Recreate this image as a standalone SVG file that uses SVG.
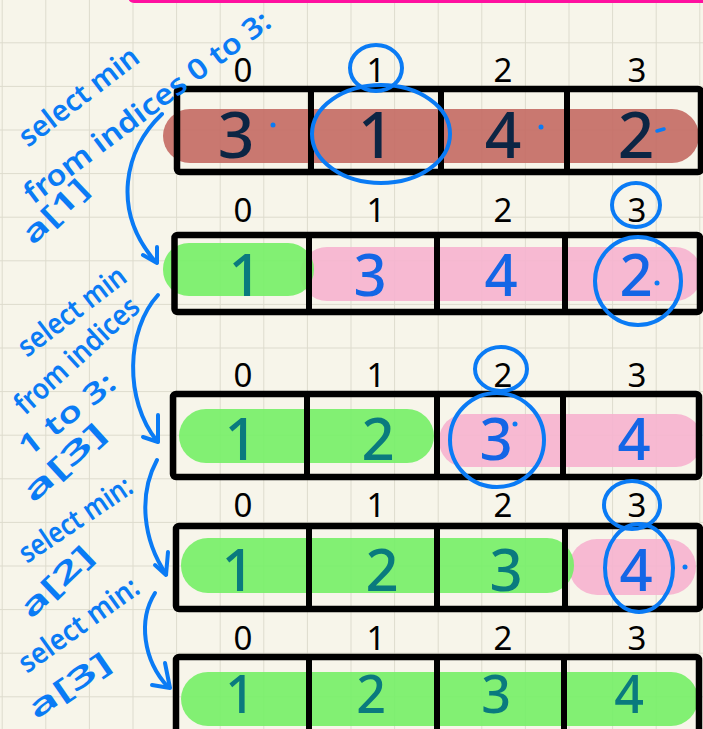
<svg xmlns="http://www.w3.org/2000/svg" width="703" height="729" viewBox="0 0 703 729">
<style>
.box{fill:none;stroke:#000;stroke-width:6.5;stroke-linejoin:round}
.div{stroke:#000;stroke-width:6}
.idx{font-family:"Noto Sans","Liberation Sans",sans-serif;font-size:33px;fill:#000;text-anchor:middle}
.dg{font-family:"Noto Sans","Liberation Sans",sans-serif;text-anchor:middle;font-weight:500}
.navy{fill:#0c2544;font-size:64px}
.teal{fill:#0a7a7e;font-size:58px}
.blu{fill:#1466e6;font-size:58px}
.small{font-size:52px}
.green{fill:#74f066;opacity:.9}
.pink{fill:#f6b3cf;opacity:.9}
.brown{fill:#c46d65;opacity:.92}
.ring{fill:none;stroke:#0a7bf5;stroke-width:4}
.note{font-family:"Noto Sans","Liberation Sans",sans-serif;font-size:29px;font-weight:600;fill:#0a7bf5}
.arr{fill:none;stroke:#0a7bf5;stroke-width:4;stroke-linecap:round;stroke-linejoin:round}
.dot{fill:#0a7bf5}
</style>
<defs>
<pattern id="grid" x="1.7" y="-1.3" width="43.6" height="43.6" patternUnits="userSpaceOnUse">
<path d="M0,0 V43.6 M0,0 H43.6" stroke="#dddbcd" stroke-width="2" fill="none"/>
</pattern>
</defs>
<rect width="703" height="729" fill="#f7f5ea"/>
<rect width="703" height="729" fill="url(#grid)"/>
<rect x="128" y="-10" width="590" height="13" rx="6" fill="#ff10a0"/>

<g id="row1">
<rect class="brown" x="163" y="109" width="536" height="54" rx="27"/>
<rect class="box" x="177" y="89" width="524" height="83" rx="3"/>
<line class="div" x1="311" y1="89" x2="311" y2="172"/>
<line class="div" x1="441" y1="89" x2="441" y2="172"/>
<line class="div" x1="567" y1="89" x2="567" y2="172"/>
<text class="idx" x="243" y="82">0</text><text class="idx" x="376" y="82">1</text><text class="idx" x="503" y="82">2</text><text class="idx" x="637" y="82">3</text>
<text class="dg navy" x="236" y="158">3</text><text class="dg navy" x="376" y="158">1</text><text class="dg navy" x="503" y="158">4</text><text class="dg navy" x="636" y="158">2</text>
<circle class="dot" cx="273" cy="125" r="2.5"/><circle class="dot" cx="541" cy="127" r="2.5"/><path d="M657,131 L664,129" stroke="#0a7bf5" stroke-width="3.5" stroke-linecap="round"/>
<ellipse class="ring" cx="376" cy="68" rx="26" ry="23"/>
<ellipse class="ring" cx="381" cy="134" rx="69" ry="49"/>
</g>

<g id="row2">
<rect class="pink" x="300" y="247" width="402" height="54" rx="27"/>
<rect class="green" x="163" y="243" width="151" height="53" rx="26"/>
<rect class="box" x="174.5" y="235" width="525.5" height="77" rx="3"/>
<line class="div" x1="309" y1="235" x2="309" y2="312"/>
<line class="div" x1="437" y1="235" x2="437" y2="312"/>
<line class="div" x1="565" y1="235" x2="565" y2="312"/>
<text class="idx" x="243" y="222">0</text><text class="idx" x="376" y="222">1</text><text class="idx" x="503" y="222">2</text><text class="idx" x="637" y="222">3</text>
<text class="dg teal" x="245" y="296">1</text><text class="dg blu" x="370" y="296">3</text><text class="dg blu" x="501" y="296">4</text><text class="dg blu" x="636" y="296">2</text>
<circle class="dot" cx="657" cy="283" r="2.5"/>
<ellipse class="ring" cx="636" cy="205" rx="24" ry="22"/>
<ellipse class="ring" cx="638" cy="281" rx="43" ry="44"/>
</g>

<g id="row3">
<rect class="pink" x="439" y="414" width="263" height="53" rx="26"/>
<rect class="green" x="179" y="409" width="255" height="54" rx="27"/>
<rect class="box" x="173" y="394" width="526" height="83" rx="3"/>
<line class="div" x1="307" y1="394" x2="307" y2="477"/>
<line class="div" x1="437" y1="394" x2="437" y2="477"/>
<line class="div" x1="563" y1="394" x2="563" y2="477"/>
<text class="idx" x="243" y="387">0</text><text class="idx" x="376" y="387">1</text><text class="idx" x="503" y="387">2</text><text class="idx" x="637" y="387">3</text>
<text class="dg teal" x="241" y="460">1</text><text class="dg teal" x="378" y="460">2</text><text class="dg blu" x="496" y="460">3</text><text class="dg blu" x="634" y="460">4</text>
<circle class="dot" cx="515" cy="424" r="2.5"/>
<ellipse class="ring" cx="501" cy="369" rx="26" ry="22"/>
<ellipse class="ring" cx="497" cy="440" rx="47" ry="47"/>
</g>

<g id="row4">
<rect class="pink" x="569" y="539" width="127" height="56" rx="28"/>
<rect class="green" x="181" y="538" width="393" height="55" rx="27"/>
<rect class="box" x="176" y="526" width="524" height="83" rx="3"/>
<line class="div" x1="309" y1="526" x2="309" y2="609"/>
<line class="div" x1="437" y1="526" x2="437" y2="609"/>
<line class="div" x1="565" y1="526" x2="565" y2="609"/>
<text class="idx" x="243" y="517">0</text><text class="idx" x="376" y="517">1</text><text class="idx" x="503" y="517">2</text><text class="idx" x="637" y="517">3</text>
<text class="dg teal" x="238" y="591">1</text><text class="dg teal" x="382" y="591">2</text><text class="dg teal" x="506" y="591">3</text><text class="dg blu" x="636" y="591">4</text>
<circle class="dot" cx="685" cy="567" r="2.5"/>
<ellipse class="ring" cx="632" cy="505" rx="28" ry="24"/>
<ellipse class="ring" cx="639" cy="568" rx="34" ry="44"/>
</g>

<g id="row5">
<rect class="green" x="181" y="672" width="517" height="54" rx="27"/>
<rect class="box" x="176" y="657" width="523" height="90" rx="3"/>
<line class="div" x1="309" y1="657" x2="309" y2="735"/>
<line class="div" x1="437" y1="657" x2="437" y2="735"/>
<line class="div" x1="564" y1="657" x2="564" y2="735"/>
<text class="idx" x="243" y="650">0</text><text class="idx" x="376" y="650">1</text><text class="idx" x="503" y="650">2</text><text class="idx" x="637" y="650">3</text>
<text class="dg teal small" x="240" y="713">1</text><text class="dg teal small" x="371" y="713">2</text><text class="dg teal small" x="496" y="713">3</text><text class="dg teal small" x="629" y="713">4</text>
</g>

<g id="notes">
<text class="note" transform="translate(28,148) rotate(-37.5)" textLength="143" lengthAdjust="spacingAndGlyphs">select min</text>
<text class="note" transform="translate(33,205) rotate(-36.8)" textLength="300" lengthAdjust="spacingAndGlyphs">from indices 0 to 3:</text>
<text class="note" transform="translate(33,246) rotate(-43.6)" textLength="80" lengthAdjust="spacingAndGlyphs">a[1]</text>
<text class="note" transform="translate(27,358) rotate(-37.4)" textLength="128" lengthAdjust="spacingAndGlyphs">select min</text>
<text class="note" transform="translate(25,416) rotate(-42.4)" textLength="158" lengthAdjust="spacingAndGlyphs">from indices</text>
<text class="note" transform="translate(28,458) rotate(-38.3)" textLength="115" lengthAdjust="spacingAndGlyphs">1 to 3:</text>
<text class="note" transform="translate(33,504) rotate(-42.4)" textLength="102" lengthAdjust="spacingAndGlyphs">a[3]</text>
<text class="note" transform="translate(27,564) rotate(-33.9)" textLength="130" lengthAdjust="spacingAndGlyphs">select min:</text>
<text class="note" transform="translate(31,620) rotate(-44)" textLength="90" lengthAdjust="spacingAndGlyphs">a[2]</text>
<text class="note" transform="translate(27,674) rotate(-35.6)" textLength="141" lengthAdjust="spacingAndGlyphs">select min:</text>
<text class="note" transform="translate(36,720) rotate(-34.5)" textLength="94" lengthAdjust="spacingAndGlyphs">a[3]</text>
</g>

<g id="connectors">
<path class="arr" d="M162,114 C124,150 112,210 154,260"/>
<path class="arr" d="M143,255 L157,263 L157,247"/>
<path class="arr" d="M158,295 C126,330 124,400 157,441"/>
<path class="arr" d="M143,437 L158,442 L158,415"/>
<path class="arr" d="M157,460 C138,495 143,540 166,574"/>
<path class="arr" d="M155,565 L166,575 L168,552"/>
<path class="arr" d="M155,593 C138,620 143,660 168,687"/>
<path class="arr" d="M152,685 L170,688 L165,663"/>
</g>
</svg>
